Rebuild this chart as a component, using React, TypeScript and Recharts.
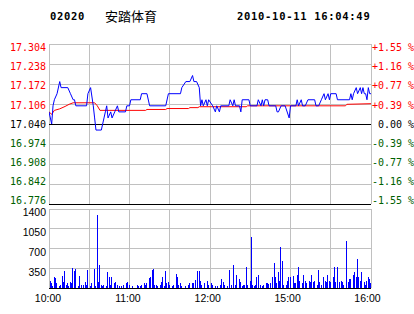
/* Intraday chart: 02020 安踏体育 — price/avg lines + per-minute volume */
import { ComposedChart, BarChart, Bar, Line, XAxis, YAxis, CartesianGrid, ReferenceLine } from 'recharts';

const BASE = 17.04; // previous close

const priceTicks = [16.776, 16.842, 16.908, 16.974, 17.04, 17.106, 17.172, 17.238, 17.304];
const volTicks = [0, 350, 700, 1050, 1400];
const timeTicks = [0, 30, 60, 90, 120, 150, 180, 210, 240];
const timeLabels: Record<number, string> = { 0: '10:00', 60: '11:00', 120: '12:00', 180: '15:00', 240: '16:00' };

// minute index (0 = 10:00, 120 = 12:00/14:30 break, 240 = 16:00)
const tradeMin = [
  0, 2, 3, 4, 6, 8, 9, 14, 16, 18, 19, 20, 28, 29, 31, 33, 34, 35, 39, 40, 41, 42, 43, 44, 46, 47, 49, 51, 52, 57, 58, 60, 61,
  68, 69, 73, 75, 87, 89, 98, 99, 102, 105, 107, 108, 110, 112, 113, 114, 115, 117, 118, 119, 122, 124, 125, 127, 128,
  134, 135, 137, 138, 139, 142, 143, 144, 149, 150, 155, 156, 158, 159, 160, 161, 163, 164, 169, 170, 171, 173, 176,
  179, 180, 184, 185, 186, 188, 189, 191, 193, 198, 199, 201, 203, 205, 206, 208, 209, 210, 214, 215, 224, 225, 226,
  227, 229, 230, 232, 233, 234, 235, 236, 237, 238, 239, 240,
];
const tradePrice = [
  17.08, 17.04, 17.10, 17.12, 17.14, 17.18, 17.16, 17.16, 17.14, 17.12, 17.12, 17.10, 17.10, 17.14, 17.16, 17.10, 17.06,
  17.02, 17.02, 17.04, 17.06, 17.08, 17.10, 17.06, 17.08, 17.06, 17.08, 17.10, 17.08, 17.08, 17.10, 17.10, 17.12,
  17.12, 17.14, 17.14, 17.10, 17.10, 17.14, 17.14, 17.16, 17.18, 17.18, 17.20, 17.18, 17.18, 17.16, 17.10, 17.12, 17.10,
  17.12, 17.10, 17.12, 17.10, 17.08, 17.10, 17.08, 17.10,
  17.10, 17.12, 17.10, 17.12, 17.10, 17.10, 17.08, 17.12, 17.12, 17.10, 17.10, 17.12, 17.10, 17.12, 17.10, 17.12, 17.12,
  17.10, 17.10, 17.08, 17.08, 17.10, 17.10,
  17.06, 17.10, 17.10, 17.12, 17.10, 17.12, 17.10, 17.10, 17.12, 17.12, 17.10, 17.10, 17.12, 17.14, 17.12, 17.14, 17.12,
  17.14, 17.14, 17.12, 17.12, 17.14, 17.12,
  17.14, 17.16, 17.14, 17.16, 17.14, 17.16, 17.14, 17.14, 17.12, 17.16, 17.14, 17.14,
];

const avgMin = [0, 2, 4, 8, 12, 15, 18, 34, 36, 38, 72, 73, 87, 88, 104, 105, 111, 112, 147, 148, 221, 222, 240];
const avgPrice = [
  17.08, 17.072, 17.085, 17.09, 17.098, 17.105, 17.11, 17.11, 17.1, 17.085, 17.085, 17.088, 17.088, 17.091, 17.091,
  17.094, 17.094, 17.097, 17.097, 17.1, 17.1, 17.105, 17.107,
];

const volMin = [
  0, 1, 2, 3, 4, 5, 6, 8, 9, 10, 11, 12, 13, 14, 15, 16, 17, 18, 19, 20, 22, 23, 24, 26, 27, 28, 29, 31, 32, 34, 35, 36, 37,
  38, 39, 40, 41, 43, 44, 45, 46, 47, 49, 50, 51, 53, 54, 56, 58, 59, 60, 62, 66, 67, 68, 69, 71, 72, 73, 75, 76, 77, 78,
  79, 80, 81, 83, 84, 85, 86, 87, 88, 89, 90, 92, 93, 95, 96, 97, 98, 99, 102, 104, 105, 107, 108, 109, 111, 112, 113,
  114, 116, 118, 119, 121, 122, 124, 126, 128, 129, 130, 131, 133, 135, 136, 138, 139, 140, 142, 143, 144, 145, 146, 147,
  148, 150, 151, 152, 153, 154, 155, 156, 158, 159, 160, 162, 163, 164, 165, 167, 168, 169, 170, 171, 172, 173, 174, 175,
  177, 178, 179, 180, 182, 183, 184, 185, 186, 187, 189, 190, 191, 192, 194, 195, 196, 197, 198, 200, 201, 202, 203, 205,
  206, 207, 208, 209, 210, 212, 213, 214, 215, 217, 218, 219, 220, 222, 223, 224, 225, 227, 228, 229, 230, 231, 232, 233,
  235, 236, 237, 238, 239, 240,
];
const volAmt = [
  970, 130, 90, 40, 200, 170, 90, 40, 60, 210, 100, 300, 60, 80, 40, 100, 90, 355, 310, 335, 40, 210, 60, 60, 110, 60, 320,
  40, 90, 335, 40, 1290, 110, 410, 60, 40, 60, 40, 290, 200, 60, 200, 90, 110, 60, 40, 40, 60, 80, 110, 60, 40, 60, 40, 40,
  60, 90, 60, 90, 170, 200, 320, 335, 60, 60, 40, 60, 110, 200, 40, 310, 90, 110, 60, 40, 60, 245, 200, 60, 80, 40, 40, 60,
  80, 80, 90, 140, 310, 310, 120, 60, 90, 130, 60, 90, 60, 40, 40, 60, 160, 110, 60, 40, 320, 60, 410, 60, 235, 160, 110,
  40, 60, 60, 380, 60, 130, 910, 60, 40, 60, 190, 235, 60, 40, 60, 80, 90, 70, 90, 190, 440, 200, 90, 290, 130, 735, 470,
  60, 60, 130, 190, 190, 215, 90, 90, 235, 370, 130, 90, 235, 130, 90, 130, 100, 235, 100, 130, 60, 320, 100, 60, 200, 130,
  100, 235, 130, 110, 200, 370, 110, 370, 100, 130, 110, 60, 840, 110, 160, 160, 235, 280, 200, 510, 200, 130, 290, 110,
  60, 130, 200, 160, 90,
];

const tradeData = tradeMin.map((m, i) => ({ m, p: tradePrice[i] }));
const avgData = avgMin.map((m, i) => ({ m, p: avgPrice[i] }));
const volData = volMin.map((m, i) => ({ m, v: volAmt[i] }));

const RED = '#ff0000';
const GREEN = '#006000';
const GRID = '#c0c0c0';
const MONO = '"DejaVu Sans Mono", monospace';
const SANS = '"Liberation Sans", Arial, sans-serif';

const colorOf = (v: number) => (v > BASE + 1e-6 ? RED : v < BASE - 1e-6 ? GREEN : '#000');
// labels are pulled slightly toward the middle of the panel
const pull = (v: number) => ((v - BASE) / 0.066) * 0.9;

function PriceTick({ x, y, payload }: any) {
  const v = payload.value as number;
  return (
    <text x={x} y={y + pull(v)} dy={3.6} textAnchor="end" fill={colorOf(v)} fontSize={10} fontFamily={MONO}>
      {v.toFixed(3)}
    </text>
  );
}

function PctTick({ x, y, payload }: any) {
  const v = payload.value as number;
  const pct = ((v - BASE) / BASE) * 100;
  const sign = pct > 0.001 ? '+' : pct < -0.001 ? '-' : '\u00a0';
  return (
    <text x={x} y={y + pull(v)} dy={3.6} textAnchor="start" fill={colorOf(v)} fontSize={10} fontFamily={MONO}>
      {`${sign}${Math.abs(pct).toFixed(2)} %`}
    </text>
  );
}

function VolTick({ x, y, payload }: any) {
  if (payload.value === 0) return null;
  return (
    <text x={x} y={y} dy={7.4} textAnchor="end" fill="#000" fontSize={10.5} fontFamily={SANS}>
      {payload.value}
    </text>
  );
}

function TimeTick({ x, y, payload }: any) {
  const label = timeLabels[payload.value];
  if (!label) return null;
  return (
    <text x={x - 1 - (payload.value / 240) * 2.5} y={y} dy={13.5} textAnchor="middle" fill="#000" fontSize={10.5} fontFamily={SANS}>
      {label}
    </text>
  );
}

export default function App() {
  return (
    <div style={{ position: 'absolute', left: 0, top: 0, width: 414, height: 314, background: '#fff', overflow: 'hidden' }}>
      <style>{`
        .recharts-cartesian-grid line, .recharts-reference-line line { shape-rendering: crispEdges; }
        .recharts-bar-rectangle path { shape-rendering: crispEdges; }
        .recharts-wrapper svg { overflow: visible; }
      `}</style>
      <div style={{ position: 'absolute', top: 9, left: 50, fontFamily: MONO, fontWeight: 700, fontSize: 10.5, letterSpacing: 0.7, lineHeight: '14px' }}>
        02020
      </div>
      <div style={{ position: 'absolute', top: 7, left: 105, fontFamily: '"Noto Sans CJK SC", sans-serif', fontSize: 13, lineHeight: '17px' }}>
        安踏体育
      </div>
      <div style={{ position: 'absolute', top: 9, left: 237, fontFamily: MONO, fontWeight: 700, fontSize: 10.5, letterSpacing: 0.7, lineHeight: '14px' }}>
        2010-10-11 16:04:49
      </div>

      <div style={{ position: 'absolute', left: 0, top: 0 }}>
        <ComposedChart width={414} height={208} margin={{ top: 44, right: 0, bottom: 4, left: 0 }}>
          <CartesianGrid stroke={GRID} />
          <XAxis dataKey="m" type="number" domain={[0, 240]} ticks={timeTicks} hide allowDataOverflow />
          <YAxis
            domain={[priceTicks[0], priceTicks[priceTicks.length - 1]]}
            ticks={priceTicks}
            interval={0}
            width={49}
            axisLine={false}
            tickLine={false}
            tickSize={0}
            tickMargin={3}
            tick={<PriceTick />}
            allowDataOverflow
          />
          <YAxis
            yAxisId="pct"
            orientation="right"
            domain={[priceTicks[0], priceTicks[priceTicks.length - 1]]}
            ticks={priceTicks}
            interval={0}
            width={43}
            axisLine={false}
            tickLine={false}
            tickSize={0}
            tickMargin={1}
            tick={<PctTick />}
            allowDataOverflow
          />
          <ReferenceLine y={BASE} stroke="#000" />
          <ReferenceLine y={priceTicks[0]} stroke="#000" />
          <Line data={avgData} dataKey="p" type="linear" stroke={RED} strokeWidth={1} dot={false} isAnimationActive={false} />
          <Line data={tradeData} dataKey="p" type="linear" stroke="#0000ff" strokeWidth={1} dot={false} isAnimationActive={false} />
        </ComposedChart>
      </div>

      <div style={{ position: 'absolute', left: 0, top: 0 }}>
        <BarChart width={414} height={314} data={volData} margin={{ top: 209, right: 43, bottom: 0, left: 0 }}>
          <CartesianGrid stroke={GRID} />
          <XAxis
            dataKey="m"
            type="number"
            domain={[0, 240]}
            ticks={timeTicks}
            interval={0}
            height={26}
            axisLine={false}
            tickLine={false}
            tickSize={0}
            tickMargin={0}
            tick={<TimeTick />}
            allowDataOverflow
          />
          <YAxis
            domain={[0, 1400]}
            ticks={volTicks}
            interval={0}
            width={49}
            axisLine={false}
            tickLine={false}
            tickSize={0}
            tickMargin={3}
            tick={<VolTick />}
            allowDataOverflow
          />
          <ReferenceLine y={0} stroke="#000" />
          <Bar dataKey="v" fill="#0000ff" barSize={1} isAnimationActive={false} />
        </BarChart>
      </div>
    </div>
  );
}
